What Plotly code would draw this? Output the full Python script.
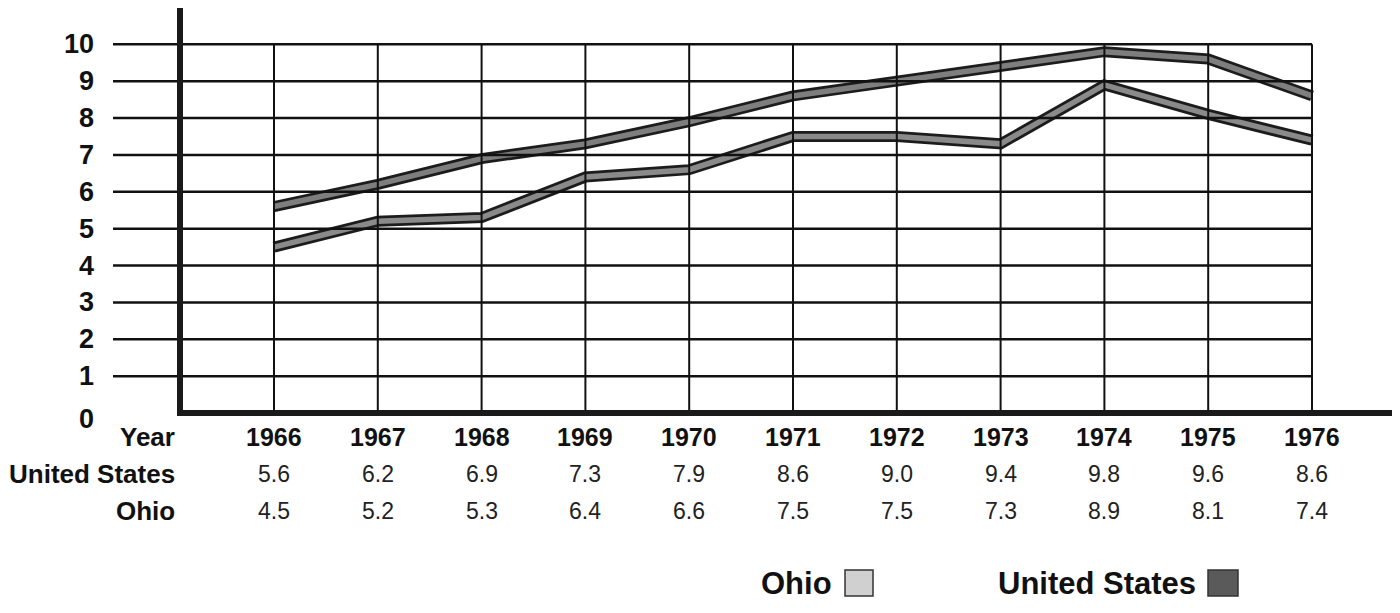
import plotly.graph_objects as go

# ---- data ----
years = [1966, 1967, 1968, 1969, 1970, 1971, 1972, 1973, 1974, 1975, 1976]
us_values = [5.6, 6.2, 6.9, 7.3, 7.9, 8.6, 9.0, 9.4, 9.8, 9.6, 8.6]
ohio_values = [4.5, 5.2, 5.3, 6.4, 6.6, 7.5, 7.5, 7.3, 8.9, 8.1, 7.4]
y_ticks = [0, 1, 2, 3, 4, 5, 6, 7, 8, 9, 10]
row_labels = ["Year", "United States", "Ohio"]
legend_labels = ["Ohio", "United States"]

PAGE_W, PAGE_H = 1400, 613
OFF = 8  # default body margin of the html page
W, H = PAGE_W - OFF, PAGE_H - OFF

# pixel anchors of the data grid (page coordinates)
X0_PX, X_STEP = 274.0, 103.8   # pixel of first year, pixels per year
Y0_PX, Y_STEP = 413.0, 36.87   # pixel of value 0, pixels per unit


def dx(px):
    return years[0] + (px - X0_PX) / X_STEP


def dy(py):
    return (Y0_PX - py) / Y_STEP


x_range = [dx(OFF), dx(PAGE_W)]
y_range = [dy(PAGE_H), dy(OFF)]

FONT = "Liberation Sans, Arial, sans-serif"

fig = go.Figure()

shapes = []
# horizontal grid lines (extend to the left of the vertical axis)
for t in y_ticks[1:]:
    shapes.append(dict(type="line", xref="x", yref="y", x0=dx(113), x1=years[-1],
                       y0=t, y1=t, line=dict(color="#111111", width=2.5)))
# vertical grid lines
for yr in years:
    shapes.append(dict(type="line", xref="x", yref="y", x0=yr, x1=yr,
                       y0=0, y1=y_ticks[-1], line=dict(color="#111111", width=2)))
# thick vertical axis
shapes.append(dict(type="line", xref="x", yref="y", x0=dx(180), x1=dx(180),
                   y0=dy(8), y1=dy(416), line=dict(color="#1a1a1a", width=6)))
# thick bottom axis
shapes.append(dict(type="line", xref="x", yref="y", x0=dx(177), x1=dx(PAGE_W),
                   y0=0, y1=0, line=dict(color="#1a1a1a", width=6)))

# series lines: dark outline + gray fill
series = [
    ("United States", us_values, "#7e7e7e"),
    ("Ohio", ohio_values, "#8a8a8a"),
]
for name, vals, inner in series:
    fig.add_trace(go.Scatter(x=years, y=vals, mode="lines", name=name,
                             line=dict(color="#1c1c1c", width=11),
                             showlegend=False, hoverinfo="skip"))
    fig.add_trace(go.Scatter(x=years, y=vals, mode="lines", name=name,
                             line=dict(color=inner, width=5.5),
                             showlegend=False,
                             hovertemplate=name + " %{x}: %{y}<extra></extra>"))

annotations = []
# y tick labels
for t in y_ticks:
    yy = t if t != 0 else dy(419)
    annotations.append(dict(x=dx(96), y=yy, xref="x", yref="y", text=f"<b>{t}</b>",
                            showarrow=False, xanchor="right", yanchor="middle",
                            font=dict(family=FONT, size=27, color="#111111")))

# table
row_y = [dy(437), dy(474), dy(511)]
for lbl, ry in zip(row_labels, row_y):
    annotations.append(dict(x=dx(177), y=ry, xref="x", yref="y", text=f"<b>{lbl}</b>",
                            showarrow=False, xanchor="right", yanchor="middle",
                            font=dict(family=FONT, size=26, color="#111111")))
for i, yr in enumerate(years):
    annotations.append(dict(x=yr, y=row_y[0], xref="x", yref="y", text=f"<b>{yr}</b>",
                            showarrow=False, xanchor="center", yanchor="middle",
                            font=dict(family=FONT, size=25, color="#111111")))
    annotations.append(dict(x=yr, y=row_y[1], xref="x", yref="y", text=f"{us_values[i]:.1f}",
                            showarrow=False, xanchor="center", yanchor="middle",
                            font=dict(family=FONT, size=23, color="#222222")))
    annotations.append(dict(x=yr, y=row_y[2], xref="x", yref="y", text=f"{ohio_values[i]:.1f}",
                            showarrow=False, xanchor="center", yanchor="middle",
                            font=dict(family=FONT, size=23, color="#222222")))

# legend (text then swatch)
leg_y = dy(583)
leg_items = [
    (legend_labels[0], 834, 845, 873, "#d0d0d0"),
    (legend_labels[1], 1198, 1208, 1238, "#5a5a5a"),
]
for lbl, txt_right, sx0, sx1, col in leg_items:
    annotations.append(dict(x=dx(txt_right), y=leg_y, xref="x", yref="y", text=f"<b>{lbl}</b>",
                            showarrow=False, xanchor="right", yanchor="middle",
                            font=dict(family=FONT, size=31, color="#111111")))
    shapes.append(dict(type="rect", xref="x", yref="y", x0=dx(sx0), x1=dx(sx1),
                       y0=dy(570), y1=dy(596), fillcolor=col,
                       line=dict(color="#333333", width=1.5)))

fig.update_layout(
    width=W, height=H,
    margin=dict(l=0, r=0, t=0, b=0),
    paper_bgcolor="white", plot_bgcolor="white",
    xaxis=dict(range=x_range, visible=False, fixedrange=True),
    yaxis=dict(range=y_range, visible=False, fixedrange=True),
    shapes=shapes, annotations=annotations,
    showlegend=False,
)

fig.write_html("out.html")
